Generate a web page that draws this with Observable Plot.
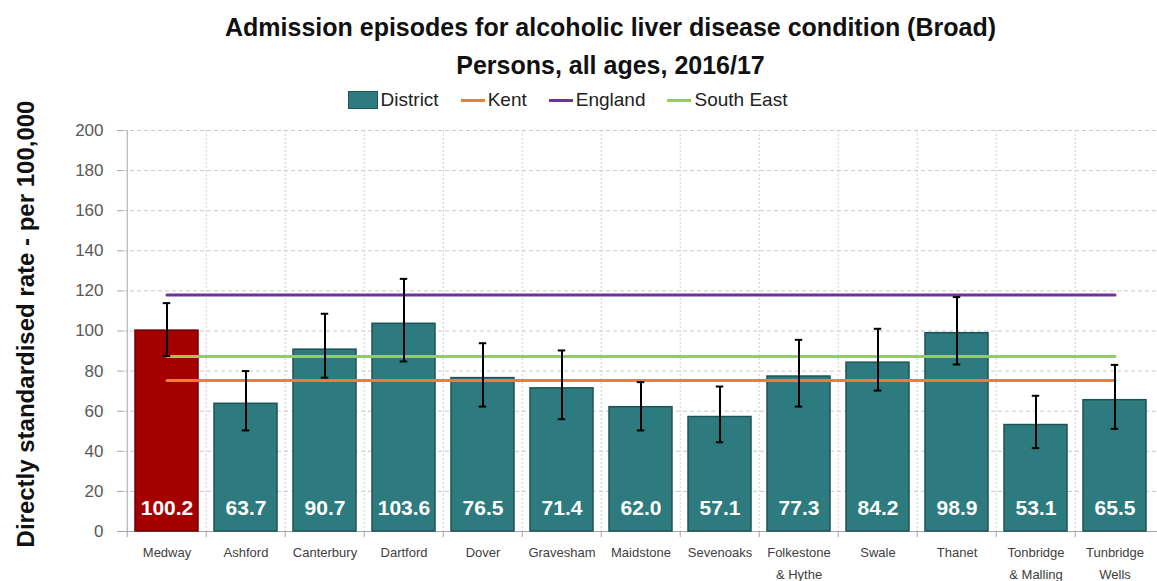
<!DOCTYPE html>
<html>
<head>
<meta charset="utf-8">
<script src="https://cdn.jsdelivr.net/npm/d3@7"></script>
<script src="https://cdn.jsdelivr.net/npm/@observablehq/plot@0.6"></script>
<style>
  html, body { margin: 0; padding: 0; background: #fff; }
  body { width: 1157px; height: 581px; position: relative; overflow: hidden; font-family: "Liberation Sans", Arial, sans-serif; }
  #title { position: absolute; top: 8px; left: 32px; width: 1157px; text-align: center; font-weight: bold; font-size: 25px; line-height: 38px; color: #111; }
  #legend { position: absolute; top: 89px; left: -11px; width: 1157px; display: flex; justify-content: center; align-items: center; font-size: 19px; color: #222; }
  .item { display: flex; align-items: center; margin: 0 11px; }
  .sw { display: inline-block; width: 30px; height: 18px; background: #2d7b7e; border: 1.5px solid #1e5356; box-sizing: border-box; margin-right: 3px; }
  .ln { display: inline-block; width: 24px; height: 3px; margin-right: 3px; }
  #chart { position: absolute; top: 120px; left: 0; }
  #chart svg { overflow: visible; }
</style>
</head>
<body>
<div id="title">Admission episodes for alcoholic liver disease condition (Broad)<br>Persons, all ages, 2016/17</div>
<div id="legend"></div>
<div id="chart"></div>
<script>
const categories = ["Medway","Ashford","Canterbury","Dartford","Dover","Gravesham","Maidstone","Sevenoaks","Folkestone & Hythe","Swale","Thanet","Tonbridge & Malling","Tunbridge Wells"];
const tickLabels = ["Medway","Ashford","Canterbury","Dartford","Dover","Gravesham","Maidstone","Sevenoaks","Folkestone\n& Hythe","Swale","Thanet","Tonbridge\n& Malling","Tunbridge\nWells"];
const values = [100.2,63.7,90.7,103.6,76.5,71.4,62.0,57.1,77.3,84.2,98.9,53.1,65.5];
const lower  = [87.5,50.4,76.7,84.8,62.3,56.0,50.4,44.5,62.3,70.3,83.3,41.6,51.2];
const upper  = [113.9,80.0,108.6,126.0,93.9,90.3,74.5,72.3,95.6,101.1,116.9,67.7,83.1];
const highlighted = "Medway";
const kent = 75.3, england = 117.9, southEast = 87.3;
const yTicks = [0,20,40,60,80,100,120,140,160,180,200];
const refSeries = [
  {name: "Kent", value: kent, color: "#ed7d31"},
  {name: "England", value: england, color: "#7030a0"},
  {name: "South East", value: southEast, color: "#92d050"}
];

// legend
const legend = document.getElementById("legend");
legend.innerHTML = `<span class="item"><span class="sw"></span>District</span>` +
  refSeries.map(s => `<span class="item"><span class="ln" style="background:${s.color}"></span>${s.name}</span>`).join("");

const rows = categories.map((c, i) => ({cat: c, label: tickLabels[i], value: values[i], lo: lower[i], hi: upper[i]}));
const lineRows = refSeries.flatMap(s => categories.map(c => ({cat: c, series: s.name, v: s.value, color: s.color})));

const W = 1157, H = 461, ML = 123, MR = 0, MT = 10, MB = 50;
const step = (W - ML - MR) / categories.length;

const chart = Plot.plot({
  width: W, height: H,
  marginLeft: ML, marginRight: MR, marginTop: MT, marginBottom: MB,
  style: {fontFamily: "Liberation Sans, Arial, sans-serif", background: "white", overflow: "visible"},
  x: {domain: categories, padding: 0, axis: null},
  y: {domain: [0, 200], ticks: yTicks},
  marks: [
    Plot.ruleY(yTicks.filter(t => t > 0), {stroke: "#c9c9c9", strokeDasharray: "4,3", strokeWidth: 1}),
    Plot.ruleX(categories.slice(1), {x: d => d, dx: -step / 2, stroke: "#cfcfcf", strokeDasharray: "2,2", strokeWidth: 1}),
    Plot.ruleX(categories, {x: d => d, dx: -step / 2, y1: 0, y2: -3, stroke: "#a6a6a6"}),
    Plot.ruleX([categories[0]], {x: d => d, dx: -step / 2, y1: 0, y2: 200, stroke: "#a6a6a6"}),
    Plot.ruleY([0], {stroke: "#a6a6a6"}),
    Plot.axisY({ticks: yTicks, tickSize: 6, tickPadding: 14, fontSize: 17, color: "#595959", stroke: "#a6a6a6", label: null}),
    Plot.barY(rows, {x: "cat", y: "value", insetLeft: 8, insetRight: 8,
      fill: d => d.cat === highlighted ? "#a50000" : "#2d7b7e",
      stroke: d => d.cat === highlighted ? "#6b0000" : "#1e5356", strokeWidth: 1.5}),
    Plot.lineY(lineRows, {x: "cat", y: "v", z: "series", stroke: "color", strokeWidth: 3}),
    Plot.ruleX(rows, {x: "cat", y1: "lo", y2: "hi", stroke: "#000", strokeWidth: 2}),
    Plot.tickY(rows, {x: "cat", y: "hi", insetLeft: step / 2 - 4, insetRight: step / 2 - 4, stroke: "#000", strokeWidth: 2}),
    Plot.tickY(rows, {x: "cat", y: "lo", insetLeft: step / 2 - 4, insetRight: step / 2 - 4, stroke: "#000", strokeWidth: 2}),
    Plot.text(rows, {x: "cat", y: 0, dy: -23, text: d => d.value.toFixed(1), fill: "white", fontWeight: "bold", fontSize: 21}),
    Plot.text(rows, {x: "cat", frameAnchor: "bottom", dy: 9, lineAnchor: "top", text: "label", fontSize: 13, lineHeight: 1.75, fill: "#404040"}),
    Plot.text(["Directly standardised rate - per 100,000"], {frameAnchor: "left", textAnchor: "middle", rotate: -90, dx: -97, dy: -7, fontSize: 24, fontWeight: "bold", fill: "#111", lineWidth: 100})
  ]
});
document.getElementById("chart").appendChild(chart);
</script>
</body>
</html>
